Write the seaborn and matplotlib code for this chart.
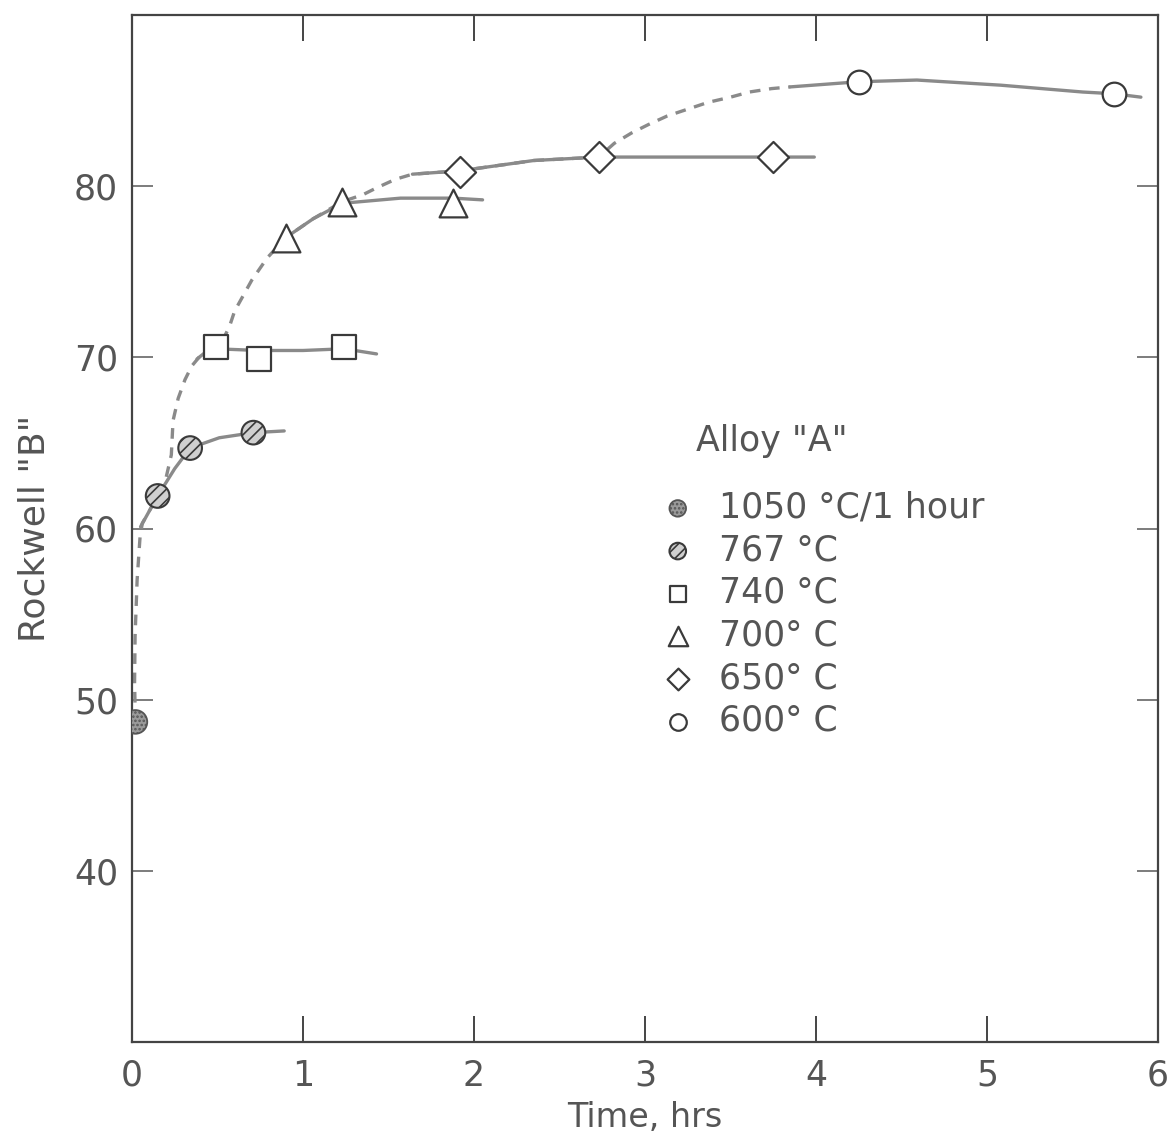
import matplotlib
matplotlib.use("Agg")
import matplotlib.pyplot as plt
import seaborn as sns
import numpy as np

# ---- measured points (Time, hrs ; Rockwell "B") ----
t_1050 = [0.02]
hrb_1050 = [48.7]
t_767 = [0.15, 0.34, 0.71]
hrb_767 = [61.9, 64.7, 65.6]
t_740 = [0.49, 0.74, 1.24]
hrb_740 = [70.6, 69.9, 70.6]
t_700 = [0.90, 1.23, 1.88]
hrb_700 = [77.0, 79.1, 79.0]
t_650 = [1.92, 2.73, 3.75]
hrb_650 = [80.8, 81.7, 81.7]
t_600 = [4.25, 5.74]
hrb_600 = [86.1, 85.4]

# ---- hand-drawn curves ----
c767_t = [0.05, 0.10, 0.15, 0.25, 0.34, 0.51, 0.71, 0.89]
c767_h = [60.1, 61.0, 61.9, 63.5, 64.7, 65.3, 65.6, 65.7]
c740_t = [0.38, 0.43, 0.49, 0.74, 1.00, 1.24, 1.43]
c740_h = [69.9, 70.3, 70.5, 70.4, 70.4, 70.5, 70.2]
c700_t = [0.90, 1.06, 1.23, 1.57, 1.88, 2.05]
c700_h = [77.0, 78.1, 79.0, 79.3, 79.3, 79.2]
c650_t = [1.64, 1.92, 2.35, 2.73, 3.20, 3.75, 3.99]
c650_h = [80.7, 80.9, 81.5, 81.7, 81.7, 81.7, 81.7]
c600_t = [3.85, 4.25, 4.59, 5.08, 5.56, 5.74, 5.90]
c600_h = [85.8, 86.1, 86.2, 85.9, 85.5, 85.4, 85.2]

# dashed envelope curve
env_t = [0.02, 0.015, 0.018, 0.03, 0.047, 0.06, 0.10, 0.15, 0.20, 0.23, 0.24,
         0.27, 0.31, 0.35, 0.40, 0.49, 0.54, 0.57, 0.60, 0.65, 0.70, 0.79,
         0.90, 1.06, 1.23, 1.35, 1.43, 1.54, 1.64, 1.92, 2.35, 2.73, 2.82,
         2.92, 3.02, 3.13, 3.25, 3.37, 3.50, 3.61, 3.74, 3.85]
env_h = [48.7, 51.0, 53.7, 57.0, 59.5, 60.3, 61.0, 61.9, 63.0, 64.3, 66.3,
         67.6, 68.7, 69.5, 70.1, 70.6, 71.2, 71.8, 72.7, 73.6, 74.5, 75.8,
         77.0, 78.1, 79.1, 79.5, 79.9, 80.4, 80.7, 80.9, 81.5, 81.7, 82.5,
         83.1, 83.6, 84.1, 84.5, 84.9, 85.2, 85.5, 85.7, 85.8]

legend_title = 'Alloy "A"'
labels = ['1050 °C/1 hour', '767 °C', '740 °C', '700° C', '650° C', '600° C']
x_ticks = [0, 1, 2, 3, 4, 5, 6]
y_ticks = [40, 50, 60, 70, 80]

sns.set_style("ticks")
plt.rcParams['font.family'] = ['DejaVu Sans']
plt.rcParams['hatch.linewidth'] = 1.2

TXT = '#555555'
LINE = '#8a8a8a'
EDGE = '#3a3a3a'

fig = plt.figure(figsize=(11.69, 11.45), dpi=100)
ax = fig.add_axes([132/1169, 103/1145, 1026/1169, 1027/1145])

lw = 2.4
sns.lineplot(x=env_t, y=env_h, sort=False, estimator=None, color=LINE, lw=lw,
             linestyle=(0, (3.2, 2.6)), ax=ax, zorder=2)
for ct, ch in [(c767_t, c767_h), (c740_t, c740_h), (c700_t, c700_h),
               (c650_t, c650_h), (c600_t, c600_h)]:
    sns.lineplot(x=ct, y=ch, sort=False, estimator=None, color=LINE, lw=lw,
                 ax=ax, zorder=3)

S = 290
sns.scatterplot(x=t_1050, y=hrb_1050, marker='o', s=S, facecolor='#9a9a9a',
                edgecolor='#555555', linewidth=1.3, hatch='....', zorder=5,
                ax=ax, label=labels[0])
sns.scatterplot(x=t_767, y=hrb_767, marker='o', s=S, facecolor='#d0d0d0',
                edgecolor=EDGE, linewidth=1.5, hatch='///', zorder=5,
                ax=ax, label=labels[1])
sns.scatterplot(x=t_740, y=hrb_740, marker='s', s=S, facecolor='white',
                edgecolor=EDGE, linewidth=1.6, zorder=5, ax=ax, label=labels[2])
sns.scatterplot(x=t_700, y=hrb_700, marker='^', s=400, facecolor='white',
                edgecolor=EDGE, linewidth=1.6, zorder=5, ax=ax, label=labels[3])
sns.scatterplot(x=t_650, y=hrb_650, marker='D', s=250, facecolor='white',
                edgecolor=EDGE, linewidth=1.6, zorder=5, ax=ax, label=labels[4])
sns.scatterplot(x=t_600, y=hrb_600, marker='o', s=S, facecolor='white',
                edgecolor=EDGE, linewidth=1.6, zorder=5, ax=ax, label=labels[5])

ax.set_xlim(0, 6)
ax.set_ylim(30, 90)
ax.set_xticks(x_ticks)
ax.set_xticklabels([str(v) for v in x_ticks])
ax.set_yticks(y_ticks)
ax.set_yticklabels([str(v) for v in y_ticks])

for sp in ax.spines.values():
    sp.set_color('#444444')
    sp.set_linewidth(1.6)
    sp.set_visible(True)

ax.tick_params(axis='x', direction='in', length=19, width=1.4, colors='#444444',
               top=True, bottom=True, labelsize=25, labelcolor=TXT, pad=12)
ax.tick_params(axis='y', direction='in', length=15, width=1.2, colors='#666666',
               left=True, right=True, labelsize=25, labelcolor=TXT, pad=10)

ax.set_xlabel('Time, hrs', fontsize=24, color=TXT, labelpad=6)
ax.set_ylabel('Rockwell "B"', fontsize=26, color=TXT, labelpad=16)

ax.text(0.55, 0.585, legend_title, transform=ax.transAxes, fontsize=25,
        color=TXT, ha='left', va='center')
leg = ax.legend(loc='upper left', bbox_to_anchor=(0.515, 0.537), frameon=False,
                fontsize=25, markerscale=0.7, handlelength=1.0,
                handletextpad=0.7, labelspacing=0.25, borderpad=0.0,
                borderaxespad=0.0)
for t in leg.get_texts():
    t.set_color(TXT)

fig.savefig('out.png', dpi=100)
